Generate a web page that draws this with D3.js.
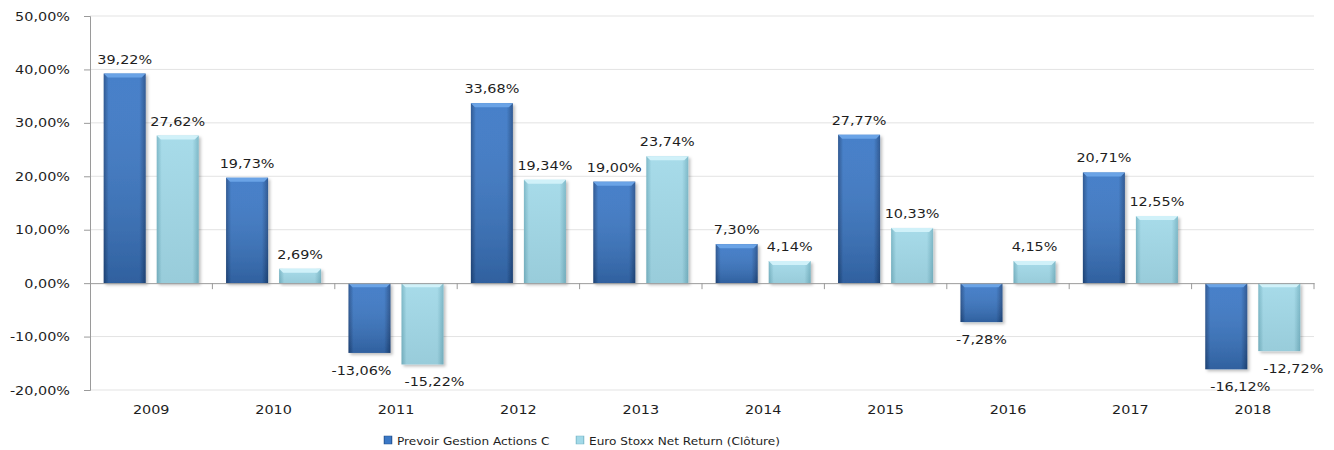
<!DOCTYPE html>
<html lang="fr">
<head>
<meta charset="UTF-8">
<title>performances annuelles</title>
<script src="https://cdn.jsdelivr.net/npm/d3@7/dist/d3.min.js"></script>
<style>
  body { margin: 0; background: #fff; }
  text { font-family: "DejaVu Sans", Verdana, sans-serif; fill: #1e1e1e; }
</style>
</head>
<body>
<svg width="1334" height="450" id="mainsvg"></svg>
<script>
// données
const years = ['2009','2010','2011','2012','2013','2014','2015','2016','2017','2018'];
const seriesNames = ['Prevoir Gestion Actions C', 'Euro Stoxx Net Return (Clôture)'];
const fundValues = [39.22, 19.73, -13.06, 33.68, 19.00, 7.30, 27.77, -7.28, 20.71, -16.12];
const indexValues = [27.62, 2.69, -15.22, 19.34, 23.74, 4.14, 10.33, 4.15, 12.55, -12.72];
const yTicks = [-20, -10, 0, 10, 20, 30, 40, 50];

const svg = d3.select('svg');
const stretch = 1.2; // le graphique d'origine est étiré en largeur
const fmt = v => d3.format('.2f')(v).replace('.', ',').replace('−', '-') + '%';

// décalage des étiquettes négatives qui se chevauchent (comme dans l'original)
const labelNudge = { '2011': [-8, 12], '2018': [14, 14] };

const x0 = 90, x1 = 1314, yTop = 16, yBot = 390;
const xScale = d3.scaleBand().domain(years).range([x0, x1]);
const xInner = d3.scaleBand().domain([0, 1]).range([0, xScale.bandwidth()])
    .paddingInner(0.2075).paddingOuter(0.258);
const yScale = d3.scaleLinear().domain([-20, 50]).range([yBot, yTop]);

const data = years.map((y, i) => ({ year: y, values: [fundValues[i], indexValues[i]] }));

// dégradés des barres
const defs = svg.append('defs');
const palettes = [
    { edge: '#234f8c', mid: '#3b78c6', cap: '#6aa3e6' },
    { edge: '#78b6c6', mid: '#a2d9e8', cap: '#d0f1f9' }
];
palettes.forEach((p, i) => {
    const g = defs.append('linearGradient').attr('id', 'grad' + i)
        .attr('x1', 0).attr('x2', 1).attr('y1', 0).attr('y2', 0);
    g.append('stop').attr('offset', '0%').attr('stop-color', p.edge);
    g.append('stop').attr('offset', '12%').attr('stop-color', p.mid);
    g.append('stop').attr('offset', '85%').attr('stop-color', p.mid);
    g.append('stop').attr('offset', '100%').attr('stop-color', p.edge);
    const v = defs.append('linearGradient').attr('id', 'shade' + i)
        .attr('x1', 0).attr('x2', 0).attr('y1', 0).attr('y2', 1);
    v.append('stop').attr('offset', '0%').attr('stop-color', '#fff').attr('stop-opacity', 0.06);
    v.append('stop').attr('offset', '100%').attr('stop-color', '#000').attr('stop-opacity', i === 0 ? 0.2 : 0.06);
});
const shadow = defs.append('filter').attr('id', 'shadow')
    .attr('x', '-20%').attr('y', '-10%').attr('width', '150%').attr('height', '130%');
shadow.append('feDropShadow').attr('dx', 2).attr('dy', 2).attr('stdDeviation', 1.5)
    .attr('flood-color', '#000').attr('flood-opacity', 0.25);

// grille
svg.append('g').selectAll('line').data(yTicks.filter(t => t !== 0)).enter().append('line')
    .attr('x1', x0).attr('x2', x1)
    .attr('y1', d => yScale(d)).attr('y2', d => yScale(d))
    .attr('stroke', '#e3e3e3').attr('stroke-width', 1);

// axe y
const yAxis = d3.axisLeft(yScale).tickValues(yTicks).tickSize(6).tickFormat(fmt);
const yAxisGroup = svg.append('g').attr('transform', `translate(${x0},0)`).call(yAxis);
yAxisGroup.select('.domain').attr('stroke', '#9a9a9a');
yAxisGroup.selectAll('.tick line').attr('stroke', '#9a9a9a');
yAxisGroup.selectAll('.tick text')
    .attr('x', 0).attr('dy', null).attr('y', 0)
    .attr('font-size', '12px').attr('text-anchor', 'end')
    .attr('dominant-baseline', 'central')
    .attr('transform', `translate(-20,0) scale(${stretch},1)`);

// barres
const groups = svg.append('g').selectAll('g').data(data).enter().append('g')
    .attr('transform', d => `translate(${xScale(d.year)},0)`);

groups.each(function(d) {
    const g = d3.select(this);
    d.values.forEach((v, s) => {
        const bx = xInner(s), bw = xInner.bandwidth();
        const top = yScale(Math.max(v, 0)), h = Math.abs(yScale(v) - yScale(0));
        const bar = g.append('g').attr('filter', 'url(#shadow)');
        bar.append('rect').attr('x', bx).attr('y', top).attr('width', bw).attr('height', h)
            .attr('fill', `url(#grad${s})`);
        bar.append('rect').attr('x', bx).attr('y', top).attr('width', bw).attr('height', h)
            .attr('fill', `url(#shade${s})`);
        // biseau supérieur
        const cap = Math.min(4, h);
        bar.append('path')
            .attr('d', `M${bx},${top} L${bx + bw},${top} L${bx + bw - 4},${top + cap} L${bx + 4},${top + cap} Z`)
            .attr('fill', palettes[s].cap);

        const dx = v < 0 && labelNudge[d.year] ? labelNudge[d.year][s] : 0;
        g.append('text')
            .attr('font-size', '12px').attr('text-anchor', 'middle')
            .attr('transform', `translate(${bx + bw / 2 + dx},${v >= 0 ? top - 10 : top + h + 22}) scale(${stretch},1)`)
            .text(fmt(v));
    });
});

// axe x
const xAxis = d3.axisBottom(xScale).tickSize(0).tickSizeOuter(0);
const xAxisGroup = svg.append('g').attr('transform', `translate(0,${yScale(0)})`).call(xAxis);
xAxisGroup.select('.domain').attr('stroke', '#9a9a9a');
xAxisGroup.selectAll('.tick text').remove();
svg.append('g').selectAll('line').data(years).enter().append('line')
    .attr('x1', d => xScale(d) + xScale.step())
    .attr('x2', d => xScale(d) + xScale.step())
    .attr('y1', yScale(0)).attr('y2', yScale(0) + 6)
    .attr('stroke', '#9a9a9a');

svg.append('g').selectAll('text').data(years).enter().append('text')
    .attr('font-size', '12px').attr('text-anchor', 'middle')
    .attr('transform', d => `translate(${xScale(d) + xScale.bandwidth() / 2},${yBot + 24}) scale(${stretch},1)`)
    .text(d => d);

// légende
const legendX = [384, 576];
const legend = svg.append('g').selectAll('g').data(seriesNames).enter().append('g')
    .attr('transform', (d, i) => `translate(${legendX[i]},436)`);
legend.append('rect').attr('width', 8).attr('height', 8)
    .attr('fill', (d, i) => `url(#grad${i})`)
    .attr('stroke', (d, i) => palettes[i].edge).attr('stroke-width', 0.5);
legend.append('text')
    .attr('font-size', '11px')
    .attr('transform', `translate(13,8.5) scale(1.1,1)`)
    .text(d => d);
</script>
</body>
</html>
